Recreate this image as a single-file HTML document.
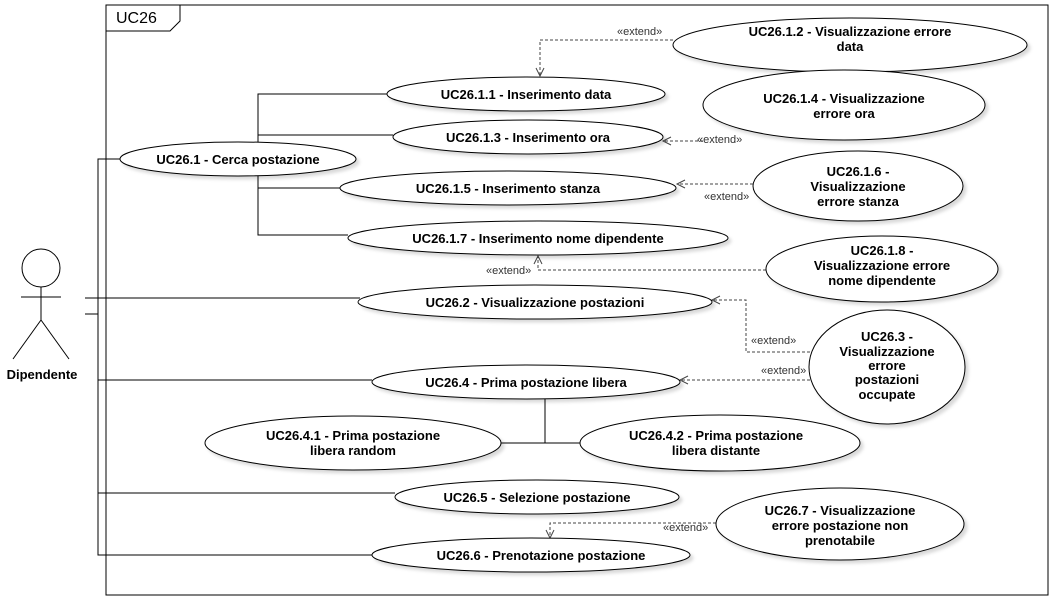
<!DOCTYPE html>
<html><head><meta charset="utf-8"><style>
html,body{margin:0;padding:0;background:#fff;}
svg{display:block;}
text{font-family:"Liberation Sans",Arial,sans-serif;}
.t{font-size:13px;font-weight:bold;text-anchor:middle;fill:#000;}
.x{font-size:11px;fill:#333;}
</style></head><body>
<svg width="1055" height="601" viewBox="0 0 1055 601" xmlns="http://www.w3.org/2000/svg">
<defs>
<filter id="sh" x="-10%" y="-10%" width="130%" height="140%"><feDropShadow dx="3" dy="3" stdDeviation="1.5" flood-color="#000" flood-opacity="0.15"/></filter>
</defs>
<rect x="106" y="5" width="942" height="590" fill="none" stroke="#000" stroke-width="1"/>
<path d="M106 31 H170 L180 21 V5" fill="none" stroke="#000"/>
<text x="116" y="23" style="font-size:16px">UC26</text>

<!-- actor -->
<g stroke="#000" fill="none">
<circle cx="41" cy="268" r="19"/>
<line x1="41" y1="287" x2="41" y2="320"/>
<line x1="21" y1="297" x2="61" y2="297"/>
<line x1="41" y1="320" x2="13" y2="359"/>
<line x1="41" y1="320" x2="69" y2="359"/>
</g>
<text x="42" y="379" class="t">Dipendente</text>

<!-- association lines -->
<g stroke="#000" fill="none" stroke-width="1">
<line x1="85" y1="298" x2="360" y2="298"/>
<path d="M85 314 H98"/>
<path d="M120 159 H98 V555 H372"/>
<path d="M98 380 H372"/>
<path d="M98 493 H395"/>
<path d="M258 142 V94 H387 M258 135 H393 M258 176 V235 H348 M258 188 H341"/>
<path d="M545 399 V443 M500 443 H581"/>
</g>

<!-- extend lines -->
<g stroke="#444" fill="none" stroke-dasharray="3,2">
<path d="M673 40 H540 V76"/>
<path d="M703 141 H664"/>
<path d="M753 184 H677"/>
<path d="M766 270 H538 V256"/>
<path d="M810 352 H746 V300 H712"/>
<path d="M810 380 H680"/>
<path d="M716 523 H550 V538"/>
</g>
<g stroke="#444" fill="none">
<path d="M536 68 L540 76 L544 68"/>
<path d="M671 137 L663 141 L671 145"/>
<path d="M685 180 L677 184 L685 188"/>
<path d="M534 264 L538 256 L542 264"/>
<path d="M720 296 L712 300 L720 304"/>
<path d="M688 376 L680 380 L688 384"/>
<path d="M546 530 L550 538 L554 530"/>
</g>
<g class="x">
<text x="617" y="35" class="x">«extend»</text>
<text x="697" y="143" class="x">«extend»</text>
<text x="704" y="200" class="x">«extend»</text>
<text x="486" y="274" class="x">«extend»</text>
<text x="751" y="344" class="x">«extend»</text>
<text x="761" y="374" class="x">«extend»</text>
<text x="663" y="531" class="x">«extend»</text>
</g>

<!-- ellipses -->
<g fill="#fff" stroke="#000" filter="url(#sh)">
<ellipse cx="850" cy="45" rx="177" ry="27"/>
<ellipse cx="526" cy="94" rx="139" ry="17"/>
<ellipse cx="844" cy="105" rx="141" ry="35"/>
<ellipse cx="528" cy="137" rx="135" ry="17"/>
<ellipse cx="238" cy="159" rx="118" ry="17"/>
<ellipse cx="508" cy="188" rx="168" ry="17"/>
<ellipse cx="858" cy="186" rx="105" ry="35"/>
<ellipse cx="538" cy="238" rx="190" ry="17"/>
<ellipse cx="882" cy="269" rx="116" ry="33"/>
<ellipse cx="535" cy="302" rx="177" ry="17"/>
<ellipse cx="887" cy="367" rx="78" ry="57"/>
<ellipse cx="526" cy="382" rx="154" ry="17"/>
<ellipse cx="353" cy="443" rx="148" ry="27"/>
<ellipse cx="720" cy="443" rx="140" ry="28"/>
<ellipse cx="537" cy="497" rx="142" ry="17"/>
<ellipse cx="840" cy="524" rx="124" ry="36"/>
<ellipse cx="531" cy="555" rx="159" ry="17"/>
</g>

<text class="t" x="850" y="36">UC26.1.2 - Visualizzazione errore</text>
<text class="t" x="850" y="51">data</text>
<text class="t" x="526" y="99">UC26.1.1 - Inserimento data</text>
<text class="t" x="844" y="103">UC26.1.4 - Visualizzazione</text>
<text class="t" x="844" y="118">errore ora</text>
<text class="t" x="528" y="142">UC26.1.3 - Inserimento ora</text>
<text class="t" x="238" y="164">UC26.1 - Cerca postazione</text>
<text class="t" x="508" y="193">UC26.1.5 - Inserimento stanza</text>
<text class="t" x="858" y="176">UC26.1.6 -</text>
<text class="t" x="858" y="191">Visualizzazione</text>
<text class="t" x="858" y="206">errore stanza</text>
<text class="t" x="538" y="243">UC26.1.7 - Inserimento nome dipendente</text>
<text class="t" x="882" y="255">UC26.1.8 -</text>
<text class="t" x="882" y="270">Visualizzazione errore</text>
<text class="t" x="882" y="285">nome dipendente</text>
<text class="t" x="535" y="307">UC26.2 - Visualizzazione postazioni</text>
<text class="t" x="887" y="341">UC26.3 -</text>
<text class="t" x="887" y="356">Visualizzazione</text>
<text class="t" x="887" y="370">errore</text>
<text class="t" x="887" y="384">postazioni</text>
<text class="t" x="887" y="399">occupate</text>
<text class="t" x="526" y="387">UC26.4 - Prima postazione libera</text>
<text class="t" x="353" y="440">UC26.4.1 - Prima postazione</text>
<text class="t" x="353" y="455">libera random</text>
<text class="t" x="716" y="440">UC26.4.2 - Prima postazione</text>
<text class="t" x="716" y="455">libera distante</text>
<text class="t" x="537" y="502">UC26.5 - Selezione postazione</text>
<text class="t" x="840" y="515">UC26.7 - Visualizzazione</text>
<text class="t" x="840" y="530">errore postazione non</text>
<text class="t" x="840" y="545">prenotabile</text>
<text class="t" x="541" y="560">UC26.6 - Prenotazione postazione</text>
</svg>
</body></html>
